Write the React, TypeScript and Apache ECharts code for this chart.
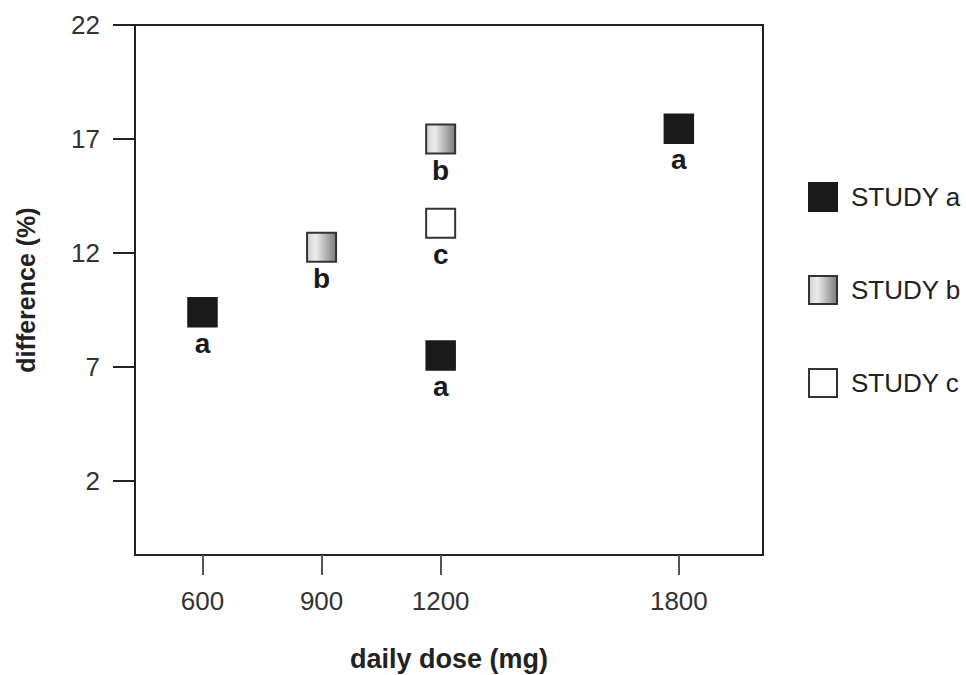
import React, { useEffect, useRef } from "react";
import * as echarts from "echarts";

const doseTicks = [600, 900, 1200, 1800];
const diffTicks = [2, 7, 12, 17, 22];

const studyA: [number, number][] = [
  [600, 9.4],
  [1200, 7.5],
  [1800, 17.45],
];
const studyB: [number, number][] = [
  [900, 12.25],
  [1200, 17.0],
];
const studyC: [number, number][] = [[1200, 13.3]];

const seriesNames = ["STUDY a", "STUDY b", "STUDY c"];
const pointLabels = ["a", "b", "c"];

const FONT = "'Liberation Sans', Arial, sans-serif";

export default function App() {
  const ref = useRef<HTMLDivElement>(null);
  useEffect(() => {
    if (!ref.current) return;
    const chart = echarts.init(ref.current, undefined, { renderer: "svg" });
    const gradB = new echarts.graphic.LinearGradient(0, 0, 1, 0, [
      { offset: 0, color: "#d0d0d0" },
      { offset: 0.3, color: "#ececec" },
      { offset: 1, color: "#7a7a7a" },
    ]);
    const styles = [
      { color: "#1a1a1a", borderColor: "#1a1a1a", borderWidth: 1.5, opacity: 1 },
      { color: gradB, borderColor: "#333", borderWidth: 2, opacity: 1 },
      { color: "#ffffff", borderColor: "#333", borderWidth: 2, opacity: 1 },
    ];
    const datasets = [studyA, studyB, studyC];
    chart.setOption({
      animation: false,
      backgroundColor: "#ffffff",
      grid: {
        left: 135,
        right: 203,
        top: 25,
        bottom: 120,
        show: true,
        borderColor: "#222",
        borderWidth: 2,
        backgroundColor: "transparent",
        outerBoundsMode: "none",
        containLabel: false,
      },
      legend: {
        orient: "vertical",
        left: 808,
        top: 182,
        padding: 0,
        itemWidth: 28,
        itemHeight: 28,
        itemGap: 63,
        icon: "rect",
        data: seriesNames,
        textStyle: { fontFamily: FONT, fontSize: 26, color: "#222", padding: [0, 0, 0, 9] },
      },
      xAxis: {
        type: "value",
        min: 430,
        max: 2012,
        name: "daily dose (mg)",
        nameLocation: "middle",
        nameGap: 90,
        nameTextStyle: { fontFamily: FONT, fontSize: 27, fontWeight: "bold", color: "#222" },
        axisLine: { show: true, onZero: false, lineStyle: { color: "#222", width: 2 } },
        axisTick: { show: true, inside: false, length: 20, customValues: doseTicks, lineStyle: { color: "#555", width: 2 } },
        axisLabel: {
          customValues: doseTicks,
          margin: 33,
          fontFamily: FONT,
          fontSize: 26,
          color: "#333",
          formatter: (v: number) => String(v),
        },
        splitLine: { show: false },
      },
      yAxis: {
        type: "value",
        min: -1.25,
        max: 22,
        name: "difference (%)",
        nameLocation: "middle",
        nameGap: 97,
        nameTextStyle: { fontFamily: FONT, fontSize: 25, fontWeight: "bold", color: "#222" },
        axisLine: { show: true, onZero: false, lineStyle: { color: "#222", width: 2 } },
        axisTick: { show: true, inside: false, length: 22, customValues: diffTicks, lineStyle: { color: "#222", width: 2 } },
        axisLabel: {
          customValues: diffTicks,
          margin: 35,
          fontFamily: FONT,
          fontSize: 26,
          color: "#333",
          formatter: (v: number) => String(v),
        },
        splitLine: { show: false },
      },
      series: datasets.map((d, i) => ({
        type: "scatter",
        name: seriesNames[i],
        data: d,
        symbol: "rect",
        symbolSize: 29,
        itemStyle: styles[i],
        label: {
          show: true,
          position: "bottom",
          distance: 2,
          formatter: () => pointLabels[i],
          fontFamily: FONT,
          fontWeight: "bold",
          fontSize: 28,
          color: "#1a1a1a",
        },
      })),
    });
    return () => chart.dispose();
  }, []);
  return (
    <div
      ref={ref}
      style={{ position: "absolute", left: 0, top: 0, width: 966, height: 675 }}
    />
  );
}
